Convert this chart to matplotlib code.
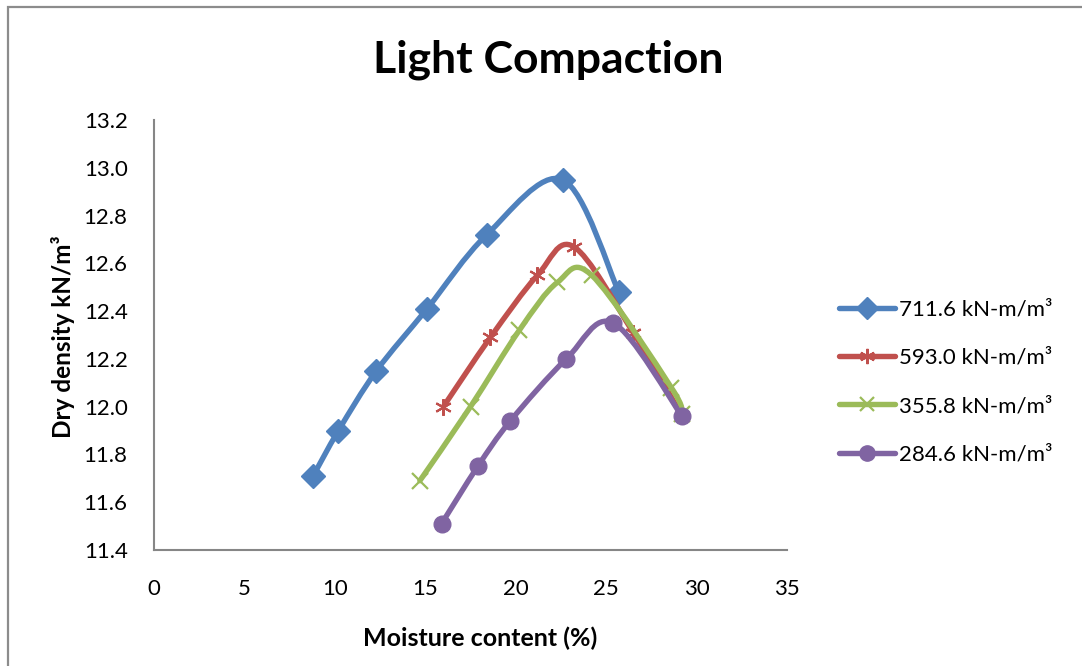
import matplotlib
matplotlib.use("Agg")
import matplotlib.pyplot as plt
import numpy as np
from matplotlib.path import Path
from matplotlib.patches import PathPatch, Rectangle
from matplotlib.lines import Line2D

plt.rcParams['font.family'] = ['Lato', 'DejaVu Sans']

# compaction test results: moisture content (%) vs dry density (kN/m3)
labels = ['711.6 kN-m/m³', '593.0 kN-m/m³', '355.8 kN-m/m³', '284.6 kN-m/m³']

mc_7116 = [8.8, 10.2, 12.3, 15.1, 18.4, 22.6, 25.7]
dd_7116 = [11.71, 11.90, 12.15, 12.41, 12.72, 12.95, 12.48]

mc_5930 = [16.0, 18.6, 21.2, 23.2, 26.5, 29.2]
dd_5930 = [12.00, 12.29, 12.55, 12.67, 12.31, 11.96]

mc_3558 = [14.7, 17.5, 20.2, 22.3, 24.2, 28.6, 29.2]
dd_3558 = [11.69, 12.00, 12.32, 12.52, 12.55, 12.08, 11.97]

mc_2846 = [15.9, 17.9, 19.7, 22.8, 25.4, 29.2]
dd_2846 = [11.51, 11.75, 11.94, 12.20, 12.35, 11.96]

xticks = [0, 5, 10, 15, 20, 25, 30, 35]
yticks = [11.4, 11.6, 11.8, 12.0, 12.2, 12.4, 12.6, 12.8, 13.0, 13.2]

colors = ['#4F81BD', '#C0504D', '#9BBB59', '#8064A2']
markers = ['D', (6, 2, 0), 'x', 'o']
msizes = [12.5, 12, 11, 12]
medges = [1, 1.5, 1.6, 1]


def smooth_path(x, y):
    # bezier path through the points, catmull-rom style tangents
    p = np.column_stack([x, y]).astype(float)
    verts = [p[0]]
    codes = [Path.MOVETO]
    n = len(p)
    for i in range(n - 1):
        p0 = p[i - 1] if i > 0 else p[i]
        p3 = p[i + 2] if i + 2 < n else p[i + 1]
        c1 = p[i] + (p[i + 1] - p0) / 6.0
        c2 = p[i + 1] - (p3 - p[i]) / 6.0
        verts += [c1, c2, p[i + 1]]
        codes += [Path.CURVE4] * 3
    return Path(verts, codes)


fig = plt.figure(figsize=(10.82, 6.66), dpi=100)
# outer chart border
fig.patches.append(Rectangle((8 / 1082, -0.2), 1.2, 1.2 - 7 / 666,
                             transform=fig.transFigure, fill=False,
                             edgecolor='#8C8C8C', linewidth=1.6))
ax = fig.add_axes([0.1423, 0.1742, 0.5851, 0.6456])

series = [(mc_7116, dd_7116), (mc_5930, dd_5930), (mc_3558, dd_3558), (mc_2846, dd_2846)]
handles = []
for k, (xs, ys) in enumerate(series):
    ax.add_patch(PathPatch(smooth_path(xs, ys), fill=False, edgecolor=colors[k],
                           linewidth=3.9, capstyle='round', joinstyle='round', zorder=2 + k))
    mfc = colors[k] if markers[k] in ('D', 'o') else 'none'
    ax.plot(xs, ys, linestyle='none', marker=markers[k], markersize=msizes[k],
            markerfacecolor=mfc, markeredgecolor=colors[k], markeredgewidth=medges[k],
            zorder=2 + k)
    handles.append(Line2D([], [], color=colors[k], linewidth=3.9, marker=markers[k],
                          markersize=msizes[k] - 1, markerfacecolor=mfc,
                          markeredgecolor=colors[k], markeredgewidth=medges[k],
                          solid_capstyle='round'))

ax.set_xlim(0, 35)
ax.set_ylim(11.4, 13.2)
ax.set_xticks(xticks)
ax.set_yticks(yticks)
ax.set_yticklabels([f'{v:.1f}' for v in yticks])
ax.tick_params(axis='both', length=0, labelsize=16)
ax.tick_params(axis='y', pad=19)
ax.tick_params(axis='x', pad=21)
for s in ['top', 'right']:
    ax.spines[s].set_visible(False)
for s in ['left', 'bottom']:
    ax.spines[s].set_color('#868686')
    ax.spines[s].set_linewidth(1.5)

fig.text(548 / 1082, 1 - 60 / 666, 'Light Compaction', ha='center', va='center',
         fontsize=32, fontweight='bold')
fig.text(480 / 1082, 1 - 638 / 666, 'Moisture content (%)', ha='center', va='center',
         fontsize=18, fontweight='bold')
fig.text(63 / 1082, 1 - 337 / 666, 'Dry density kN/m³', ha='center', va='center',
         rotation=90, fontsize=17.5, fontweight='bold')

fig.legend(handles, labels, loc='center left', bbox_to_anchor=(819 / 1082, 1 - 382 / 666),
           frameon=False, fontsize=16, handlelength=2.5, handletextpad=0.2,
           labelspacing=1.27)

fig.savefig('out.png', dpi=100)
